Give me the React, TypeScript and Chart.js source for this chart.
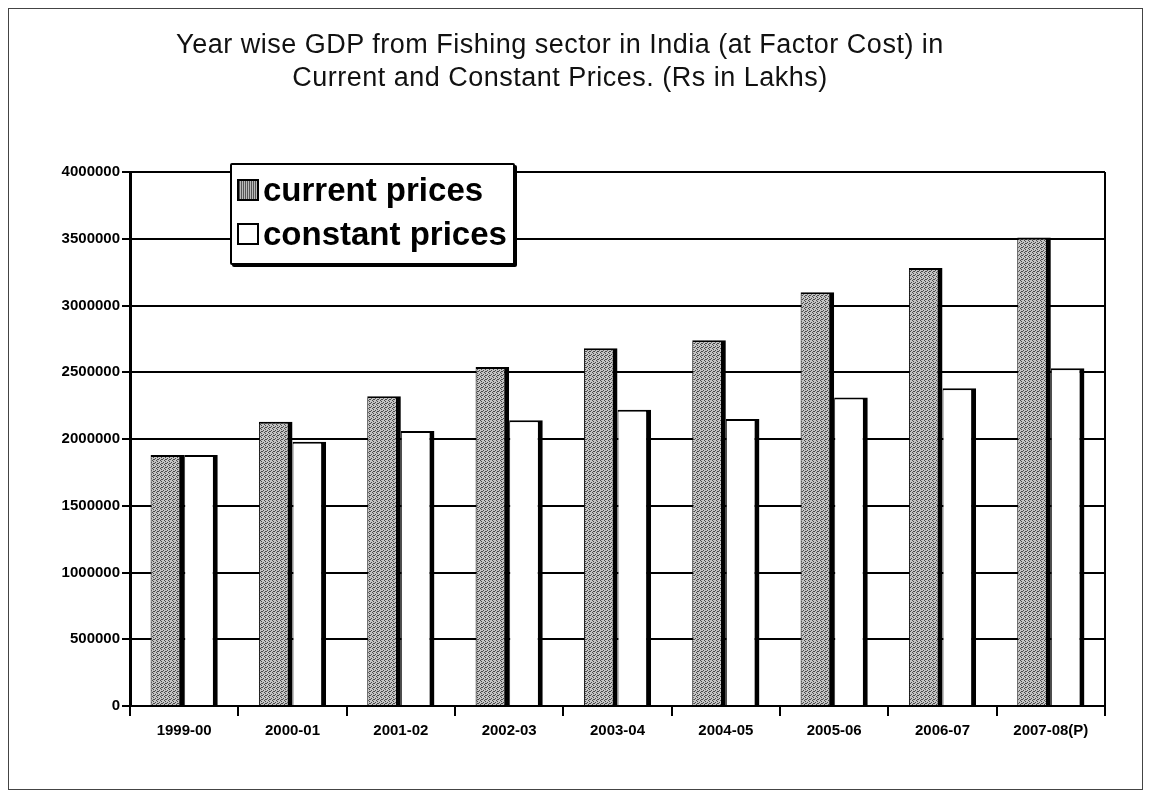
import React, { useEffect, useRef } from "react";
import { Chart, registerables } from "chart.js";

Chart.register(...registerables);

const categories = [
  "1999-00",
  "2000-01",
  "2001-02",
  "2002-03",
  "2003-04",
  "2004-05",
  "2005-06",
  "2006-07",
  "2007-08(P)",
];
const currentPrices = [1880000, 2130000, 2320000, 2540000, 2680000, 2740000, 3100000, 3280000, 3510000];
const constantPrices = [1880000, 1980000, 2060000, 2140000, 2220000, 2150000, 2310000, 2380000, 2530000];
const yMin = 0;
const yMax = 4000000;
const yStep = 500000;
const titleLines = [
  "Year wise GDP from Fishing sector in India (at Factor Cost) in",
  "Current and Constant Prices. (Rs in Lakhs)",
];
const legendLabels = ["current prices", "constant prices"];

const CW = 1133;
const CH = 780;
const AREA = { left: 121, top: 163, right: 1096, bottom: 697 };

function makePattern(): CanvasPattern | string {
  const pc = document.createElement("canvas");
  pc.width = 4;
  pc.height = 4;
  const g = pc.getContext("2d");
  if (!g) return "#999";
  g.fillStyle = "#c4c4c4";
  g.fillRect(0, 0, 4, 4);
  g.fillStyle = "#4a4a4a";
  const dots = [
    [0, 0],
    [2, 1],
    [1, 2],
    [3, 3],
    [0, 2],
  ];
  dots.forEach(([x, y]) => g.fillRect(x, y, 1, 1));
  const ctx = document.createElement("canvas").getContext("2d");
  const p = ctx ? ctx.createPattern(pc, "repeat") : null;
  return p || "#999";
}

const frame = {
  id: "frame",
  afterDraw(chart: any) {
    const { ctx, chartArea } = chart;
    ctx.save();
    ctx.strokeStyle = "#000";
    ctx.lineWidth = 2;
    ctx.beginPath();
    ctx.moveTo(chartArea.right, chartArea.top);
    ctx.lineTo(chartArea.right, chartArea.bottom);
    ctx.stroke();
    ctx.restore();
  },
};

export default function App() {
  const ref = useRef<HTMLCanvasElement | null>(null);
  useEffect(() => {
    if (!ref.current) return;
    const pattern = makePattern();
    const chart = new Chart(ref.current, {
      type: "bar",
      data: {
        labels: categories,
        datasets: [
          {
            label: legendLabels[0],
            data: currentPrices,
            backgroundColor: pattern as any,
            borderColor: "#000",
            borderWidth: { left: 1, right: 5, top: 2, bottom: 0 },
            borderSkipped: false,
            categoryPercentage: 0.62,
            barPercentage: 1.0,
          },
          {
            label: legendLabels[1],
            data: constantPrices,
            backgroundColor: "#fff",
            borderColor: "#000",
            borderWidth: { left: 1, right: 5, top: 2, bottom: 0 },
            borderSkipped: false,
            categoryPercentage: 0.62,
            barPercentage: 1.0,
          },
        ],
      },
      options: {
        responsive: false,
        animation: false,
        layout: { padding: { top: AREA.top, right: CW - AREA.right, left: 0, bottom: 0 } },
        plugins: {
          legend: { display: false },
          title: { display: false },
          tooltip: { enabled: false },
        },
        scales: {
          x: {
            grid: {
              offset: true,
              drawOnChartArea: false,
              color: "#000",
              lineWidth: 2,
              tickLength: 10,
            },
            border: { display: true, color: "#000", width: 2 },
            ticks: {
              color: "#000",
              font: { family: "'Liberation Sans', Arial, sans-serif", size: 15, weight: "bold" },
              padding: 6,
              maxRotation: 0,
              autoSkip: false,
            },
            afterFit(scale: any) {
              scale.height = CH - AREA.bottom;
            },
          },
          y: {
            min: yMin,
            max: yMax,
            grid: {
              color: "#000",
              lineWidth: 2,
              tickLength: 8,
            },
            border: { display: true, color: "#000", width: 3 },
            ticks: {
              stepSize: yStep,
              color: "#000",
              font: { family: "'Liberation Sans', Arial, sans-serif", size: 15, weight: "bold" },
              padding: 2,
              callback: (v: any) => String(v),
            },
            afterFit(scale: any) {
              scale.width = AREA.left;
            },
          },
        },
      },
      plugins: [frame],
    });
    return () => chart.destroy();
  }, []);

  const legendFont = "bold 33px 'Liberation Sans', Arial, sans-serif";
  return (
    <div
      style={{
        position: "relative",
        width: CW,
        height: CH,
        border: "1px solid #444",
        background: "#fff",
      }}
    >
      <canvas ref={ref} width={CW} height={CH} style={{ display: "block" }} />
      <div
        style={{
          position: "absolute",
          left: 0,
          width: 1102,
          top: 19,
          textAlign: "center",
          font: "27px 'Liberation Sans', Arial, sans-serif",
          letterSpacing: "0.5px",
          lineHeight: "33px",
          color: "#111",
        }}
      >
        {titleLines.map((t) => (
          <div key={t}>{t}</div>
        ))}
      </div>
      <div
        style={{
          position: "absolute",
          left: 221,
          top: 154,
          width: 281,
          height: 98,
          border: "2px solid #000",
          borderRadius: 2,
          background: "#fff",
          boxShadow: "2px 2px 0 #000",
        }}
      >
        {legendLabels.map((l, i) => (
          <div
            key={l}
            style={{
              position: "absolute",
              left: 5,
              top: i === 0 ? 6 : 50,
              display: "flex",
              alignItems: "center",
              font: legendFont,
              color: "#000",
              whiteSpace: "nowrap",
            }}
          >
            <span
              style={{
                display: "inline-block",
                width: 18,
                height: 18,
                marginRight: 4,
                border: "2px solid #000",
                background:
                  i === 0
                    ? "repeating-linear-gradient(90deg, #555 0 1px, #bbb 1px 2px)"
                    : "#fff",
              }}
            />
            <span>{l}</span>
          </div>
        ))}
      </div>
    </div>
  );
}
